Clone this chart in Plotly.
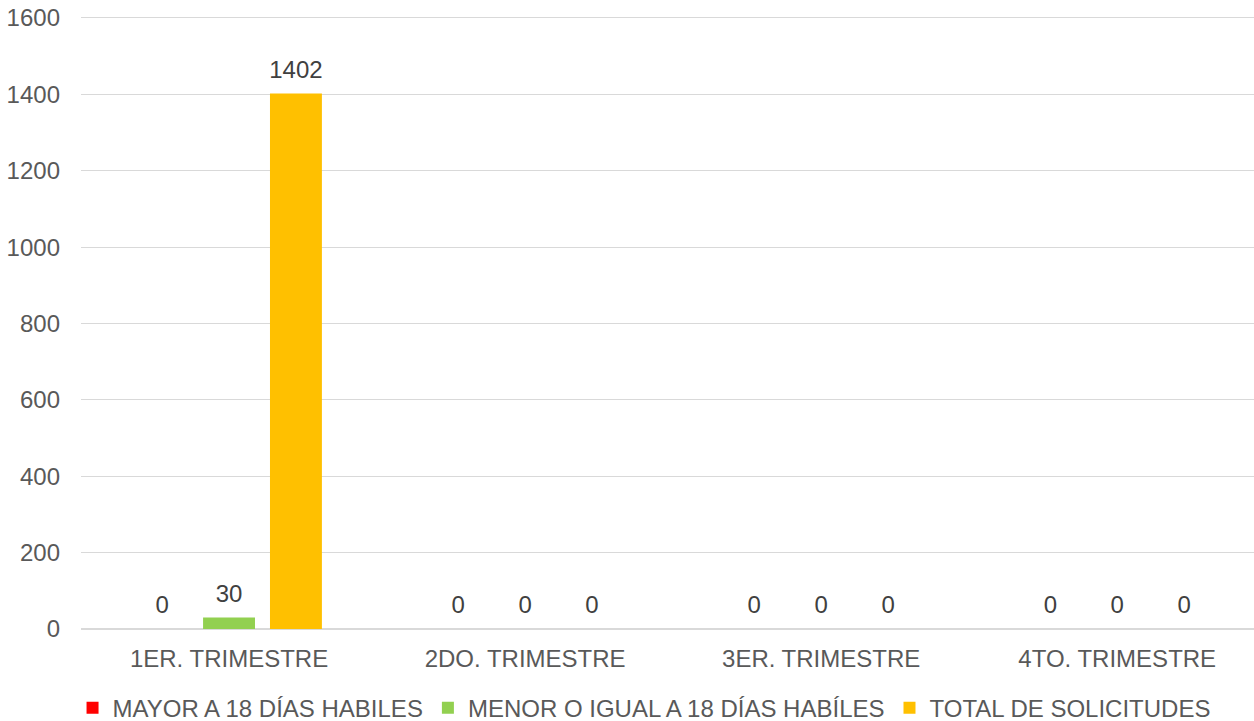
import plotly.graph_objects as go

categories = ["1ER. TRIMESTRE", "2DO. TRIMESTRE", "3ER. TRIMESTRE", "4TO. TRIMESTRE"]
series_names = ["MAYOR A 18 DÍAS HABILES", "MENOR O IGUAL A 18 DÍAS HABÍLES", "TOTAL DE SOLICITUDES"]
mayor = [0, 0, 0, 0]
menor = [30, 0, 0, 0]
total = [1402, 0, 0, 0]
y_ticks = [0, 200, 400, 600, 800, 1000, 1200, 1400, 1600]

colors = ["#FF0000", "#92D050", "#FFC000"]
FONT = "Liberation Sans, Arial, sans-serif"
FS = 24
GAP = 0.322

fig = go.Figure()
for name, vals, col in zip(series_names, [mayor, menor, total], colors):
    fig.add_trace(go.Bar(
        x=categories, y=vals, name=name, marker=dict(color=col, line=dict(width=0)),
        hoverinfo="x+y+name",
    ))
# data labels, grouped the same way as the bars
for name, vals in zip(series_names, [mayor, menor, total]):
    fig.add_trace(go.Scatter(
        x=categories, y=vals, mode="markers+text", showlegend=False, name=name,
        marker=dict(size=14, opacity=0), text=[str(v) for v in vals],
        textposition="top center", cliponaxis=False, hoverinfo="skip",
        textfont=dict(family=FONT, size=FS, color="#404040"),
    ))

fig.update_layout(
    width=1254, height=721,
    paper_bgcolor="white", plot_bgcolor="white",
    margin=dict(l=81, r=0, t=16, b=92, autoexpand=False),
    barmode="group", bargap=GAP, bargroupgap=0.224,
    scattermode="group", scattergap=GAP,
    font=dict(family=FONT, size=FS, color="#595959"),
    showlegend=True,
    legend=dict(orientation="h", x=0.48, xanchor="center", y=-0.129, yanchor="middle",
                font=dict(family=FONT, size=FS, color="#595959"),
                itemwidth=30, traceorder="normal"),
)
fig.update_xaxes(range=[-0.5, 3.462], showgrid=False, showline=False, zeroline=False,
                 automargin=False,
                 ticks="", tickfont=dict(size=FS, color="#595959"), ticklabelstandoff=13)
fig.update_yaxes(range=[0, 1605.2], tickvals=y_ticks, showgrid=True, gridcolor="#D9D9D9",
                 gridwidth=1.3, zeroline=True, zerolinecolor="#D9D9D9", zerolinewidth=2,
                 automargin=False,
                 ticks="", tickfont=dict(size=FS, color="#595959"), ticklabelstandoff=20)

fig.write_html("out.html", config={"displayModeBar": False},
               post_script="document.body.style.margin='0';document.body.style.overflow='hidden';")
